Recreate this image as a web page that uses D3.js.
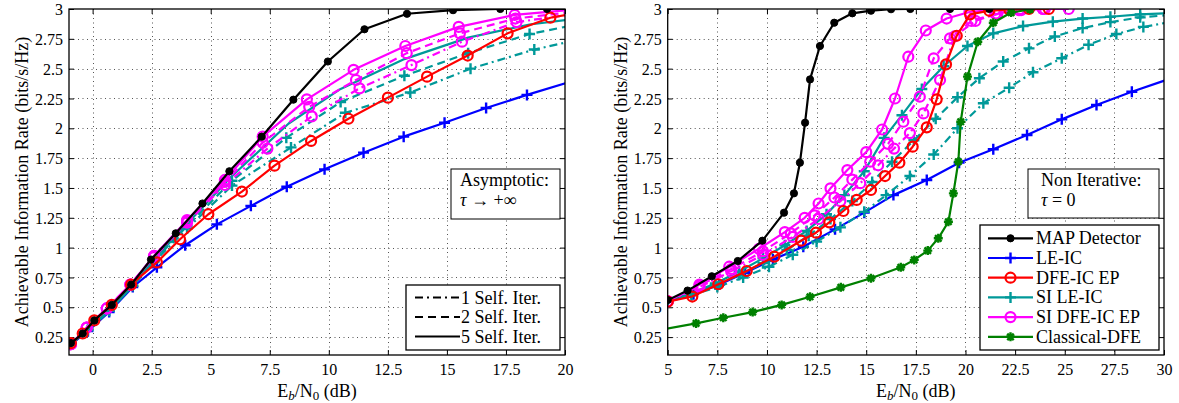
<!DOCTYPE html>
<html><head><meta charset="utf-8">
<script src="https://cdn.jsdelivr.net/npm/d3@7"></script>
<style>body{margin:0;background:#fff} svg text{font-family:'Liberation Serif','DejaVu Serif','Noto Serif',serif !important;fill:#000}</style>
</head><body><svg id="c" width="1179" height="403"></svg>
<script>
// ---------- tick labels ----------
const yTicks = [0.25,0.5,0.75,1,1.25,1.5,1.75,2,2.25,2.5,2.75,3];
const leftXTicks = [0,2.5,5,7.5,10,12.5,15,17.5,20];
const rightXTicks = [5,7.5,10,12.5,15,17.5,20,22.5,25,27.5,30];

// ---------- LEFT panel (asymptotic) ----------
const L_map_x = [-0.92,-0.42,0.07,0.81,1.63,2.47,3.52,4.65,5.79,7.16,8.5,9.96,11.51,13.31,15.26,17.26,19.24,21.2];
const L_map_y = [0.2,0.28,0.39,0.52,0.69,0.9,1.12,1.37,1.64,1.93,2.24,2.56,2.83,2.96,2.99,3,3,3];
const L_le_x = [-0.92,-0.2,0.7,1.7,2.72,3.92,5.26,6.7,8.22,9.82,11.47,13.17,14.9,16.66,18.39,20.1];
const L_le_y = [0.19,0.3,0.46,0.67,0.835,1.02,1.195,1.35,1.51,1.656,1.796,1.93,2.047,2.17,2.28,2.383];
const L_dfe_x = [-0.92,-0.42,0.07,0.81,1.63,2.72,3.7,4.9,6.32,7.7,9.25,10.83,12.5,14.16,15.88,17.57,19.38,21.2];
const L_dfe_y = [0.2,0.28,0.39,0.52,0.69,0.876,1.07,1.28,1.47,1.687,1.894,2.08,2.257,2.433,2.61,2.796,2.927,2.99];
const L_sile5_x = [-0.92,-0.2,0.7,1.7,2.6,4.0,5.9,8.3,10.5,13.2,15.9,18.5,20.5];
const L_sile5_y = [0.19,0.31,0.47,0.68,0.9,1.2,1.6,2.04,2.33,2.58,2.76,2.87,2.92];
const L_sile2_x = [-0.92,-0.2,0.7,1.7,2.6,4.0,5.9,8.2,10.5,13.2,15.9,18.5,20.5];
const L_sile2_y = [0.19,0.31,0.47,0.68,0.89,1.18,1.56,1.92,2.22,2.44,2.63,2.79,2.87];
const L_sile1_x = [-0.92,-0.2,0.7,1.7,2.6,4.0,5.9,8.4,10.7,13.45,16.0,18.7,20.5];
const L_sile1_y = [0.19,0.31,0.47,0.68,0.88,1.16,1.52,1.84,2.13,2.3,2.5,2.66,2.74];
const L_sidfe5_x = [-0.92,-0.25,0.6,1.6,2.6,4.0,5.6,7.2,9.07,11.05,13.24,15.5,17.87,20.1];
const L_sidfe5_y = [0.19,0.33,0.49,0.69,0.93,1.23,1.567,1.93,2.243,2.49,2.69,2.85,2.95,2.99];
const L_sidfe2_x = [-0.92,-0.25,0.6,1.6,2.6,4.0,5.6,7.2,9.17,11.15,13.3,15.55,17.9,20.1];
const L_sidfe2_y = [0.19,0.33,0.49,0.69,0.93,1.22,1.55,1.88,2.18,2.405,2.63,2.796,2.92,2.97];
const L_sidfe1_x = [-0.92,-0.25,0.6,1.6,2.6,4.0,5.6,7.4,9.28,11.3,13.5,15.64,17.95,20.1];
const L_sidfe1_y = [0.19,0.33,0.49,0.69,0.92,1.21,1.525,1.83,2.1,2.335,2.53,2.726,2.89,2.95];

// ---------- RIGHT panel (non iterative) ----------
const R_map_x = [5.0,6.0,7.22,8.53,9.77,10.86,11.36,11.66,11.92,12.17,12.67,13.39,14.3,15.24,16.25,17.22,19.22,21.2];
const R_map_y = [0.56,0.64,0.76,0.888,1.058,1.293,1.455,1.712,2.047,2.41,2.69,2.885,2.964,2.986,2.998,3,3,3];
const R_le_x = [5.0,6.3,7.6,8.9,10.3,11.83,13.43,14.9,16.37,18.05,19.68,21.4,23.1,24.85,26.6,28.38,30.2];
const R_le_y = [0.545,0.61,0.69,0.79,0.9,1.007,1.153,1.293,1.44,1.567,1.712,1.824,1.944,2.075,2.195,2.307,2.41];
const R_dfe_x = [5.0,6.24,7.55,8.98,10.37,11.72,12.47,13.14,13.85,14.52,15.24,15.95,16.67,17.34,18.05,18.55,19.02,19.56,20.23,21.2,22.2,23.2,24.2];
const R_dfe_y = [0.547,0.59,0.693,0.804,0.924,1.058,1.125,1.212,1.307,1.4,1.483,1.6,1.712,1.846,2.008,2.243,2.536,2.776,2.955,2.985,2.997,3,3];
const R_sile5_x = [5,6.2,7.4,8.6,9.8,10.9,12.0,13.0,13.9,14.9,15.9,16.8,17.8,18.9,20.1,21.4,22.9,24.4,25.9,27.3,28.8,30.3];
const R_sile5_y = [0.55,0.62,0.7,0.8,0.91,1.02,1.14,1.28,1.44,1.64,1.92,2.11,2.33,2.52,2.69,2.796,2.857,2.894,2.92,2.935,2.955,2.965];
const R_sile2_x = [5,6.2,7.4,8.6,9.8,11.0,12.1,13.2,14.3,15.3,16.3,17.4,18.5,19.6,20.7,21.9,23.2,24.5,25.9,27.3,28.8,30.3];
const R_sile2_y = [0.55,0.61,0.69,0.77,0.87,0.98,1.1,1.24,1.39,1.55,1.72,1.9,2.08,2.26,2.42,2.56,2.67,2.77,2.84,2.89,2.93,2.95];
const R_sile1_x = [5,6.2,7.5,8.8,10.1,11.3,12.5,13.7,14.9,16.0,17.2,18.4,19.6,20.9,22.2,23.4,24.85,26.2,27.6,28.96,30.3];
const R_sile1_y = [0.55,0.6,0.67,0.75,0.84,0.94,1.05,1.17,1.3,1.44,1.6,1.78,2.0,2.21,2.34,2.47,2.587,2.7,2.79,2.85,2.89];
const R_sidfe5_x = [5.0,6.6,8.1,9.6,10.9,11.9,12.6,13.2,14.05,15.0,15.8,16.45,17.12,18.0,19.05,20.2,21.5,22.75,23.9,25.2];
const R_sidfe5_y = [0.55,0.69,0.84,0.99,1.13,1.25,1.37,1.497,1.65,1.8,1.99,2.25,2.6,2.82,2.92,2.975,2.995,3,3,3];
const R_sidfe2_x = [5.0,6.6,8.2,9.8,11.2,12.4,13.4,14.3,15.2,16.1,16.87,17.7,18.4,19.22,20.3,21.5,22.7,23.9];
const R_sidfe2_y = [0.55,0.68,0.82,0.97,1.12,1.27,1.42,1.57,1.72,1.87,2.055,2.265,2.587,2.754,2.9,2.96,2.99,3];
const R_sidfe1_x = [5.0,6.6,8.2,9.8,11.3,12.6,13.7,14.7,15.6,16.4,17.2,17.88,18.72,19.45,20.5,21.6,22.8,24.0];
const R_sidfe1_y = [0.55,0.67,0.8,0.94,1.09,1.24,1.39,1.54,1.69,1.83,1.96,2.125,2.405,2.77,2.9,2.96,2.99,3];
const R_cdfe_x = [3.6,6.43,7.8,9.28,10.74,12.17,13.72,15.24,16.74,17.42,18.1,18.63,19.14,19.39,19.64,19.76,20.1,20.62,21.4,22.3,23.25];
const R_cdfe_y = [0.28,0.365,0.412,0.46,0.52,0.588,0.667,0.743,0.835,0.897,0.975,1.078,1.217,1.455,1.72,2.055,2.433,2.726,2.885,2.97,2.997];

const legendNames = ["MAP Detector","LE-IC","DFE-IC EP","SI LE-IC","SI DFE-IC EP","Classical-DFE"];
const iterNames = ["1 Self. Iter.","2 Self. Iter.","5 Self. Iter."];

// ---------- styles ----------
const C = {map:"#000000", le:"#0000ff", dfe:"#ff0000", sile:"#009999", sidfe:"#ff00ff", cdfe:"#008000"};
const DASH = {solid:null, dashed:"8,5", dashdot:"8,4,2,4"};
const FF = "'Liberation Serif','DejaVu Serif','Noto Serif',serif";

const svg = d3.select("#c").attr("font-family",FF);
const TICKF = 16, LABF = 18;

function zip(xs, ys){ return xs.map((x,i)=>({x, y:ys[i]})); }

function drawMarker(g, type, color, cx, cy){
  if(type==="dot"){
    g.append("circle").attr("cx",cx).attr("cy",cy).attr("r",3.6).attr("fill",color).attr("stroke",color).attr("stroke-width",1);
  } else if(type==="circle"){
    g.append("circle").attr("cx",cx).attr("cy",cy).attr("r",5).attr("fill","none").attr("stroke",color).attr("stroke-width",2.2);
  } else if(type==="plus"){
    const s=5.5;
    g.append("path").attr("d",`M${cx-s},${cy}H${cx+s}M${cx},${cy-s}V${cy+s}`).attr("stroke",color).attr("stroke-width",2.4).attr("fill","none");
  } else if(type==="star"){
    const s=4.5, d=s*0.72;
    g.append("path").attr("d",`M${cx-s},${cy}H${cx+s}M${cx},${cy-s}V${cy+s}M${cx-d},${cy-d}L${cx+d},${cy+d}M${cx-d},${cy+d}L${cx+d},${cy-d}`)
      .attr("stroke",color).attr("stroke-width",2.4).attr("fill","none");
    g.append("circle").attr("cx",cx).attr("cy",cy).attr("r",2.6).attr("fill",color);
  }
}

function panel(cfg){
  const x = d3.scaleLinear().domain(cfg.xDomain).range([cfg.left, cfg.right]);
  const y = d3.scaleLinear().domain([0.1,3]).range([355, 9]);
  const g = svg.append("g");
  const clipId = "clip"+cfg.id;
  svg.append("clipPath").attr("id",clipId).append("rect")
    .attr("x",cfg.left).attr("y",9).attr("width",cfg.right-cfg.left).attr("height",346);

  const grid = g.append("g").attr("stroke","#555").attr("stroke-width",1).attr("stroke-dasharray","1,3.5");
  cfg.xTicks.filter(t=>t>cfg.xDomain[0] && t<cfg.xDomain[1]).forEach(t=>{
    grid.append("line").attr("x1",Math.round(x(t))+0.5).attr("x2",Math.round(x(t))+0.5).attr("y1",9).attr("y2",355);
  });
  yTicks.filter(t=>t<3).forEach(t=>{
    grid.append("line").attr("y1",Math.round(y(t))+0.5).attr("y2",Math.round(y(t))+0.5).attr("x1",cfg.left).attr("x2",cfg.right);
  });

  const axB = g.append("g").attr("transform",`translate(0,355)`)
    .call(d3.axisBottom(x).tickValues(cfg.xTicks).tickSizeInner(-5).tickSizeOuter(0).tickPadding(9).tickFormat(d=>String(d)));
  const axT = g.append("g").attr("transform",`translate(0,9)`)
    .call(d3.axisTop(x).tickValues(cfg.xTicks).tickSizeInner(-5).tickSizeOuter(0).tickFormat(""));
  const axL = g.append("g").attr("transform",`translate(${cfg.left},0)`)
    .call(d3.axisLeft(y).tickValues(yTicks).tickSizeInner(-5).tickSizeOuter(0).tickPadding(6).tickFormat(d=>String(d)));
  const axR = g.append("g").attr("transform",`translate(${cfg.right},0)`)
    .call(d3.axisRight(y).tickValues(yTicks).tickSizeInner(-5).tickSizeOuter(0).tickFormat(""));
  [axB,axT,axL,axR].forEach(a=>{
    a.attr("font-family",FF).attr("font-size",TICKF);
    a.select(".domain").remove();
    a.selectAll("line").attr("stroke","#000").attr("stroke-width",1);
    a.selectAll("text").attr("font-size",TICKF).attr("font-family",FF).attr("fill","#000");
  });
  axL.selectAll("text").attr("dy","0.35em");

  const plot = g.append("g").attr("clip-path",`url(#${clipId})`);
  const line = d3.line().x(d=>x(d.x)).y(d=>y(d.y));
  cfg.series.forEach(s=>{
    const pts = zip(s.x, s.y);
    plot.append("path").attr("d",line(pts)).attr("fill","none").attr("stroke",s.color)
      .attr("stroke-width",2.2).attr("stroke-linejoin","round")
      .attr("stroke-dasharray",DASH[s.dash]);
    if(s.marker){
      const mg = plot.append("g");
      pts.filter(p=>p.x>=cfg.xDomain[0] && p.x<=cfg.xDomain[1]).forEach(p=>drawMarker(mg,s.marker,s.color,x(p.x),y(p.y)));
    }
  });

  g.append("rect").attr("x",cfg.left).attr("y",9).attr("width",cfg.right-cfg.left).attr("height",346)
    .attr("fill","none").attr("stroke","#000").attr("stroke-width",1.3);

  const cx = (cfg.left+cfg.right)/2;
  const xl = g.append("text").attr("x",cx).attr("y",397).attr("text-anchor","middle").attr("font-size",LABF);
  xl.append("tspan").text("E");
  xl.append("tspan").attr("font-style","italic").attr("font-size",13).attr("dy",3).text("b");
  xl.append("tspan").attr("dy",-3).text("/N");
  xl.append("tspan").attr("font-size",13).attr("dy",3).text("0");
  xl.append("tspan").attr("dy",-3).text(" (dB)");
  g.append("text").attr("transform",`translate(${cfg.left-41},182) rotate(-90)`).attr("text-anchor","middle")
    .attr("font-size",LABF).text("Achievable Information Rate (bits/s/Hz)");
  return {x,y,g};
}

panel({id:"L", left:69, right:565, xDomain:[-1,20], xTicks:leftXTicks, series:[
  {x:L_le_x, y:L_le_y, color:C.le, dash:"solid", marker:"plus"},
  {x:L_sile1_x, y:L_sile1_y, color:C.sile, dash:"dashdot", marker:"plus"},
  {x:L_sile2_x, y:L_sile2_y, color:C.sile, dash:"dashed", marker:"plus"},
  {x:L_sile5_x, y:L_sile5_y, color:C.sile, dash:"solid", marker:null},
  {x:L_sidfe1_x, y:L_sidfe1_y, color:C.sidfe, dash:"dashdot", marker:"circle"},
  {x:L_sidfe2_x, y:L_sidfe2_y, color:C.sidfe, dash:"dashed", marker:"circle"},
  {x:L_sidfe5_x, y:L_sidfe5_y, color:C.sidfe, dash:"solid", marker:"circle"},
  {x:L_dfe_x, y:L_dfe_y, color:C.dfe, dash:"solid", marker:"circle"},
  {x:L_map_x, y:L_map_y, color:C.map, dash:"solid", marker:"dot"}
]});

panel({id:"R", left:667.7, right:1164, xDomain:[5,30], xTicks:rightXTicks, series:[
  {x:R_le_x, y:R_le_y, color:C.le, dash:"solid", marker:"plus"},
  {x:R_sile1_x, y:R_sile1_y, color:C.sile, dash:"dashdot", marker:"plus"},
  {x:R_sile2_x, y:R_sile2_y, color:C.sile, dash:"dashed", marker:"plus"},
  {x:R_sile5_x, y:R_sile5_y, color:C.sile, dash:"solid", marker:"plus"},
  {x:R_sidfe1_x, y:R_sidfe1_y, color:C.sidfe, dash:"dashdot", marker:"circle"},
  {x:R_sidfe2_x, y:R_sidfe2_y, color:C.sidfe, dash:"dashed", marker:"circle"},
  {x:R_sidfe5_x, y:R_sidfe5_y, color:C.sidfe, dash:"solid", marker:"circle"},
  {x:R_dfe_x, y:R_dfe_y, color:C.dfe, dash:"solid", marker:"circle"},
  {x:R_cdfe_x, y:R_cdfe_y, color:C.cdfe, dash:"solid", marker:"star"},
  {x:R_map_x, y:R_map_y, color:C.map, dash:"solid", marker:"dot"}
]});

function noteBox(x0,y0,w,h,dx,line1,line2build){
  const g = svg.append("g");
  g.append("rect").attr("x",x0).attr("y",y0).attr("width",w).attr("height",h).attr("fill","#fff").attr("stroke","#000").attr("stroke-width",1);
  g.append("text").attr("x",x0+dx).attr("y",y0+17).attr("font-size",LABF).text(line1);
  const t = g.append("text").attr("x",x0+dx).attr("y",y0+37).attr("font-size",LABF);
  line2build(t);
}
noteBox(451,169,109,50,9,"Asymptotic:",t=>{
  t.append("tspan").attr("font-style","italic").text("τ");
  t.append("tspan").text(" → +∞");
});
noteBox(1028,169,131,49,13,"Non Iterative:",t=>{
  t.append("tspan").attr("font-style","italic").text("τ");
  t.append("tspan").text(" = 0");
});

(function(){
  const g = svg.append("g");
  g.append("rect").attr("x",406).attr("y",285).attr("width",154).attr("height",65).attr("fill","#fff").attr("stroke","#000").attr("stroke-width",1.3);
  const dashes=["dashdot","dashed","solid"];
  const ys=[297.5,317,336.5];
  iterNames.forEach((n,i)=>{
    g.append("line").attr("x1",415).attr("x2",460).attr("y1",ys[i]).attr("y2",ys[i]).attr("stroke","#000").attr("stroke-width",2.2).attr("stroke-dasharray",DASH[dashes[i]]);
    g.append("text").attr("x",461).attr("y",ys[i]+6).attr("font-size",LABF).text(n);
  });
})();

(function(){
  const g = svg.append("g");
  g.append("rect").attr("x",980).attr("y",225).attr("width",179).attr("height",125).attr("fill","#fff").attr("stroke","#000").attr("stroke-width",1.3);
  const cols=[C.map,C.le,C.dfe,C.sile,C.sidfe,C.cdfe];
  const mk=["dot","plus","circle","plus","circle","star"];
  legendNames.forEach((n,i)=>{
    const yy = 238.3 + i*19.7;
    g.append("line").attr("x1",988).attr("x2",1033).attr("y1",yy).attr("y2",yy).attr("stroke",cols[i]).attr("stroke-width",2.2);
    drawMarker(g, mk[i], cols[i], 1010.5, yy);
    g.append("text").attr("x",1036).attr("y",yy+6).attr("font-size",LABF).text(n);
  });
})();
</script></body></html>
